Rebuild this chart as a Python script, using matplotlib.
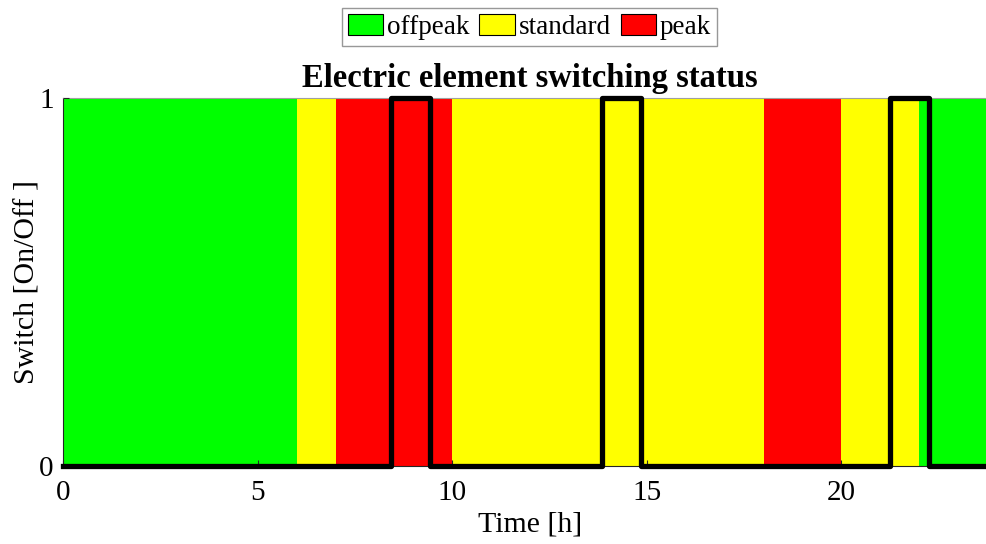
import matplotlib
matplotlib.use("Agg")
import matplotlib.pyplot as plt
from matplotlib.patches import Patch

plt.rcParams["font.family"] = ["Liberation Serif", "DejaVu Serif"]

# tariff bands (start, end in hours) and their category
band_start = [0, 6, 7, 10, 18, 20, 22]
band_end   = [6, 7, 10, 18, 20, 22, 24]
band_type  = ["offpeak", "standard", "peak", "standard", "peak", "standard", "offpeak"]

categories = ["offpeak", "standard", "peak"]
cat_colors = {"offpeak": "#00ff00", "standard": "#ffff00", "peak": "#ff0000"}

# switching status of the element (change times, state after change)
switch_t = [0, 8.43, 9.43, 13.84, 14.84, 21.24, 22.24, 24]
switch_s = [0, 1, 0, 1, 0, 1, 0, 0]

xticks = [0, 5, 10, 15, 20]
yticks = [0, 1]

fig = plt.figure(figsize=(9.87, 5.44), dpi=100)
ax = fig.add_axes([0.0643, 0.1434, 0.9458, 0.6765])

widths = [e - s for s, e in zip(band_start, band_end)]
ax.bar(band_start, [1] * len(band_start), width=widths, align="edge",
       color=[cat_colors[b] for b in band_type], edgecolor="none", zorder=1)

ax.step(switch_t, switch_s, where="post", color="black", linewidth=3.8,
        clip_on=False, zorder=3)

ax.set_xlim(0, 24)
ax.set_ylim(0, 1)
ax.set_xticks(xticks)
ax.set_yticks(yticks)
ax.tick_params(direction="in", length=4, labelsize=21, color="#262626")
ax.tick_params(axis="x", pad=10)
ax.tick_params(axis="y", pad=7)
for sp in ["left", "bottom"]:
    ax.spines[sp].set_color("#262626")
ax.spines["top"].set_color("#a0a0a0")
ax.set_axisbelow(False)

ax.set_xlabel("Time [h]", fontsize=21.5, labelpad=4)
ax.set_ylabel("Switch [On/Off ]", fontsize=21.5)
ax.yaxis.set_label_coords(-0.025, 0.5)
ax.set_title("Electric element switching status", fontsize=23.5,
             fontweight="bold", pad=8)

handles = [Patch(facecolor=cat_colors[c], edgecolor="black", linewidth=0.8)
           for c in categories]
leg = fig.legend(handles, categories, loc="upper center",
                 bbox_to_anchor=(0.5365, 0.99), ncol=3, fontsize=19.5,
                 frameon=True, fancybox=False, handlelength=1.3,
                 handleheight=0.8, handletextpad=0.15, columnspacing=0.36,
                 borderpad=0.22, borderaxespad=0.1)
leg.get_frame().set_edgecolor("#7f7f7f")
leg.get_frame().set_linewidth(1.0)

fig.savefig("out.png", dpi=100)
